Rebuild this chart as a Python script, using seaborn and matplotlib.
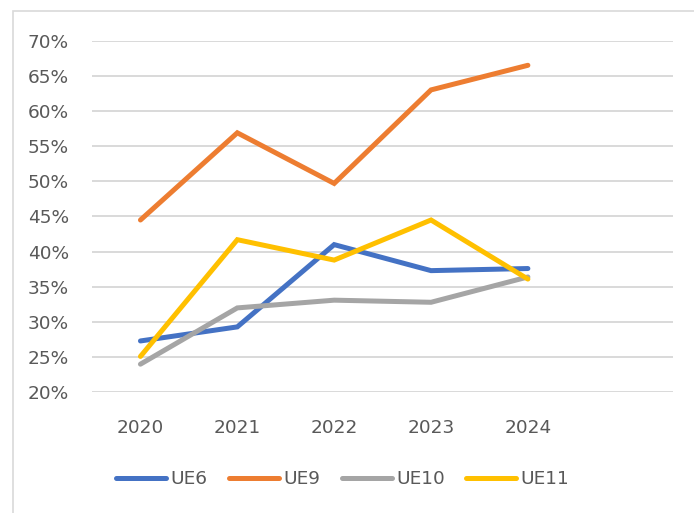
import pandas as pd
import matplotlib.pyplot as plt
import seaborn as sns
from matplotlib.patches import Rectangle

years = ["2020", "2021", "2022", "2023", "2024"]
ue6 = [0.273, 0.293, 0.410, 0.373, 0.376]
ue9 = [0.445, 0.569, 0.497, 0.630, 0.665]
ue10 = [0.240, 0.320, 0.331, 0.328, 0.364]
ue11 = [0.251, 0.417, 0.388, 0.445, 0.361]
series_names = ["UE6", "UE9", "UE10", "UE11"]
y_ticks = [0.20, 0.25, 0.30, 0.35, 0.40, 0.45, 0.50, 0.55, 0.60, 0.65, 0.70]

colors = {"UE6": "#4472C4", "UE9": "#ED7D31", "UE10": "#A5A5A5", "UE11": "#FFC000"}
text_color = "#595959"
fs = 13.3

rows = []
for name, vals in zip(series_names, [ue6, ue9, ue10, ue11]):
    for i, v in enumerate(vals):
        rows.append({"pos": i, "year": years[i], "series": name, "value": v})
df = pd.DataFrame(rows)

sns.set_style("white")
plt.rcParams["font.family"] = ["DejaVu Sans"]

fig = plt.figure(figsize=(6.94, 5.13), dpi=100)
ax = fig.add_axes([0.1326, 0.2353, 0.8374, 0.6854])

# chart frame (Excel style)
fig.patches.append(Rectangle((12.5 / 694, -0.1), 1.2, 1 - 11.5 / 513 + 0.1,
                             transform=fig.transFigure, fill=False,
                             edgecolor="#D9D9D9", lw=1.2, zorder=0))

sns.lineplot(data=df, x="pos", y="value", hue="series", hue_order=series_names,
             palette=colors, linewidth=3.6, ax=ax, legend=False,
             solid_capstyle="round", solid_joinstyle="miter")

ax.set_ylim(0.2, 0.7)
ax.set_xlim(-0.5, 5.5)
ax.set_yticks(y_ticks)
ax.set_yticklabels([f"{int(round(t * 100))}%" for t in y_ticks])
ax.set_xticks(range(len(years)))
ax.set_xticklabels(years)
ax.yaxis.grid(True, color="#D9D9D9", lw=1.4)
ax.set_axisbelow(True)
for s in ax.spines.values():
    s.set_visible(False)
ax.tick_params(axis="y", length=0, pad=16.5, labelsize=fs, labelcolor=text_color)
ax.tick_params(axis="x", length=0, pad=19, labelsize=fs, labelcolor=text_color)
ax.set_xlabel("")
ax.set_ylabel("")

handles = [plt.Line2D([], [], color=colors[n], lw=3.6, solid_capstyle="round")
           for n in series_names]
leg = fig.legend(handles, series_names, loc="center", bbox_to_anchor=(0.494, 1 - 479 / 513),
                 ncol=4, frameon=False, fontsize=fs, handlelength=2.7,
                 handletextpad=0.25, columnspacing=1.15)
for t in leg.get_texts():
    t.set_color(text_color)

fig.savefig("out.png", dpi=100)
